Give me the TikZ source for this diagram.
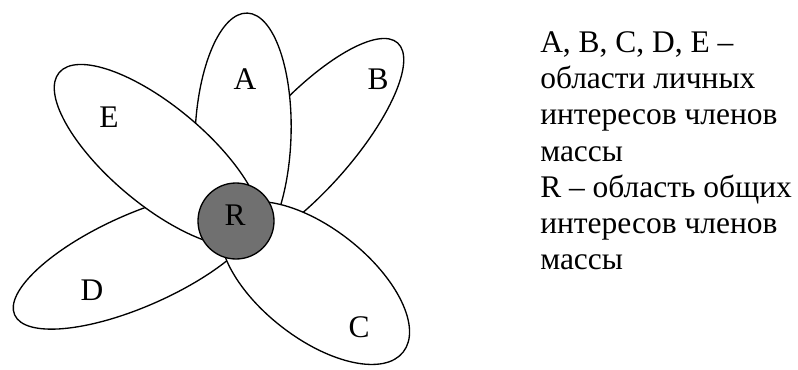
\documentclass[tikz,border=0pt]{standalone}
\usepackage{fontspec}
\setmainfont{Liberation Serif}
\usepackage{tikz}
\usepackage{xcolor}
\definecolor{ink}{HTML}{000000}
\definecolor{core}{HTML}{707070}

\begin{document}
\begin{tikzpicture}[x=0.75pt,y=0.75pt,
    petal/.style={draw=ink,fill=white,line width=1pt},
    tag/.style={font=\fontsize{23.6}{27.1}\selectfont,inner sep=0pt}]
        \useasboundingbox (0,0) rectangle (798,369);
        % petals, back to front
        \foreach \name/\x/\y/\a/\b/\rot/\lx/\ly in {
          B/304/222/140/46/48/378/290,
          A/243/233/48/123/-2/245/290,
          D/138/109/135/46/24/92/79,
          E/158/213.5/129/49/-40/109/252,
          C/315/86/112/55/-38/359/42
        }{
          \draw[petal] (\x,\y) ellipse [x radius=\a, y radius=\b, rotate=\rot];
          \node[tag] (lbl\name) at (\lx,\ly) {\name};
        }
        % common area
        \fill[core] (236,148) circle (38);
        \draw[ink,line width=1pt] (236,148) circle (38);
        \node[tag] (lblR) at (235,154) {R};
        % legend
        \node[tag,anchor=north west,align=left] (legend) at (540,337.5)
          {A, B, C, D, E --\\
           области личных\\
           интересов членов\\
           массы\\
           R -- область общих\\
           интересов членов\\
           массы};
      \end{tikzpicture}
\end{document}
